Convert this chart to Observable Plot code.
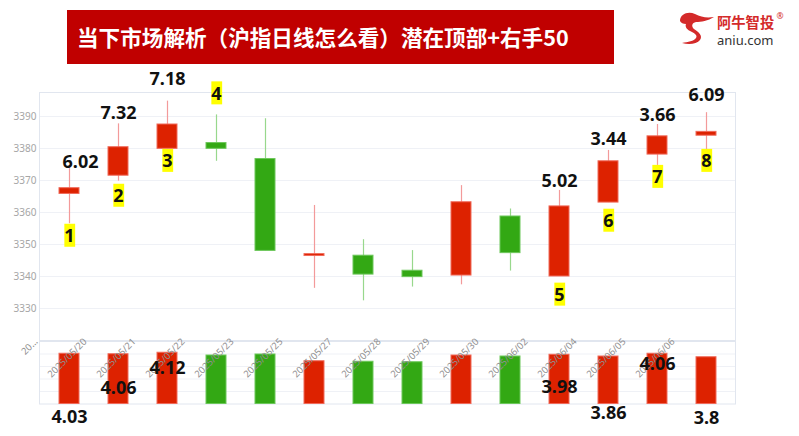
<!DOCTYPE html>
<html><head><meta charset="utf-8">
<script src="https://cdn.jsdelivr.net/npm/d3@7"></script>
<script src="https://cdn.jsdelivr.net/npm/@observablehq/plot@0.6"></script>
<style>
body{margin:0;background:#fff;}
#wrap{position:relative;width:799px;height:436px;overflow:hidden;background:#fff;font-family:"Noto Sans",sans-serif;}
#title{position:absolute;left:67px;top:10px;width:547px;height:54px;background:#c00000;color:#fff;font-weight:bold;font-size:21.6px;font-family:"Noto Sans CJK SC",sans-serif;line-height:54px;padding-left:10px;box-sizing:border-box;white-space:nowrap;}
.layer{position:absolute;left:0;top:0;}
#logo{position:absolute;left:676px;top:8px;}
</style></head><body>
<div id="wrap">
  <div id="title">当下市场解析（沪指日线怎么看）潜在顶部+右手50</div>
  <svg id="logo" width="120" height="42" viewBox="676 8 120 42">
    <path d="M680,21 C680,14 688,11 695,14 C701,17 706,18 714,17 C708,21 701,22 696,22 C692,23 691,26 694,29 C699,32 703,36 700,40 C697,44 689,45 682,43 C688,42 694,41 696,38 C698,35 694,33 690,31 C686,29 685,26 686,24 C683,24 681,23 680,21 Z" fill="#d42a2a"/>
    <text x="717" y="28" font-family="Noto Sans CJK SC" font-size="14.3" fill="#d42a2a" font-weight="bold">阿牛智投</text>
    <text x="776.5" y="19" font-family="Noto Sans" font-size="8.5" fill="#d42a2a">®</text>
    <text x="717" y="45" font-family="Noto Sans" font-size="13" fill="#333">aniu.com</text>
  </svg>
</div>
<script>
// ---- data ----
const dateLabels = ["20…","2025/05/20","2025/05/21","2025/05/22","2025/05/23","2025/05/25","2025/05/27","2025/05/28","2025/05/29","2025/05/30","2025/06/02","2025/06/04","2025/06/05","2025/06/06"];
const openVals  = [3365.8,3371.5,3379.9,3381.7,3376.7,3346.4,3346.5,3341.8,3340.3,3358.75,3340.0,3363.1,3378.1,3384.0];
const closeVals = [3367.6,3380.4,3387.5,3379.9,3348.0,3347.0,3340.6,3339.8,3363.2,3347.3,3361.9,3376.0,3383.8,3385.2];
const highVals  = [3373.7,3387.7,3394.8,3390.5,3389.3,3362.2,3351.5,3348.1,3368.4,3361.1,3366.9,3379.4,3387.5,3391.2];
const lowVals   = [3356.5,3369.8,3379.9,3376.0,3348.0,3336.3,3332.4,3336.7,3337.4,3341.7,3340.0,3363.1,3374.7,3379.6];
const volumeVals = [4.02,3.98,4.10,3.88,3.96,3.42,3.38,3.34,3.88,3.80,3.94,3.80,4.02,3.74];
const yTicks = [3330,3340,3350,3360,3370,3380,3390];
const yGrid = [3320,3330,3340,3350,3360,3370,3380,3390];
const volGrid = [1,2,3,4];

// annotations (category, level in axis units, text)
const topNoteIdx  = [0,1,2,10,11,12,13];
const topNoteY    = [3375.6,3391.1,3401.6,3369.7,3383.0,3390.5,3396.7];
const topNoteText = ["6.02","7.32","7.18","5.02","3.44","3.66","6.09"];
const tagIdx  = [0,1,2,3,10,11,12,13];
const tagY    = [3352.5,3365.0,3375.9,3397.0,3334.1,3357.2,3370.9,3375.9];
const tagText = ["1","2","3","4","5","6","7","8"];
const volNoteIdx  = [0,1,2,10,11,12,13];
const volNoteY    = [-1.04,1.24,2.84,1.32,-0.72,3.16,-1.12];
const volNoteText = ["4.03","4.06","4.12","3.98","3.86","4.06","3.8"];

// ---- build ----
const rows = dateLabels.map((d,i)=>({d,o:openVals[i],c:closeVals[i],h:highVals[i],l:lowVals[i],v:volumeVals[i],up:closeVals[i]>=openVals[i]}));
const topNotes = topNoteIdx.map((k,i)=>({d:dateLabels[k],y:topNoteY[i],t:topNoteText[i]}));
const tags = tagIdx.map((k,i)=>({d:dateLabels[k],y:tagY[i],t:tagText[i]}));
const volNotes = volNoteIdx.map((k,i)=>({d:dateLabels[k],y:volNoteY[i],t:volNoteText[i]}));

const RED="#dd2200", GREEN="#33a814", RED_W="#f39a9a", GREEN_W="#98d88c", RED_S="#f06a5a", GREEN_S="#6cc75a";
const xOpts = {domain: dateLabels, paddingInner:0.6, paddingOuter:0.3, axis:null};
const numFont = "Noto Sans";

const topPlot = Plot.plot({
  width:799, height:341, marginTop:92, marginBottom:1, marginLeft:39, marginRight:64,
  x: xOpts,
  y: {domain:[3320,3397.5], axis:null},
  color: {type:"identity"},
  style: {background:"none", fontFamily:numFont, overflow:"visible"},
  marks: [
    Plot.ruleY(yGrid, {stroke:"#eff1f6"}),
    Plot.frame({stroke:"#e1e6ef"}),
    Plot.axisY(yTicks, {tickSize:0, tickPadding:3, tickFormat:"d", fill:"#a6a6a6", fontSize:10, label:null}),
    Plot.ruleX(rows, {x:"d", y1:"l", y2:"h", stroke:d=>d.up?RED_W:GREEN_W, strokeWidth:1.2}),
    Plot.barY(rows, {x:"d", y1:"o", y2:"c", fill:d=>d.up?RED:GREEN, stroke:d=>d.up?RED_S:GREEN_S, strokeWidth:1}),
    Plot.text(topNotes.slice(0,1), {x:"d", y:"y", text:"t", dx:11, fontSize:18, fontWeight:"bold", fill:"#111"}),
    Plot.text(topNotes.slice(1), {x:"d", y:"y", text:"t", fontSize:18, fontWeight:"bold", fill:"#111"}),
    Plot.text(tags, {x:"d", y:"y", text:"t", fontSize:18, fontWeight:"bold", fill:"#111", className:"tag"})
  ]
});
topPlot.classList.add("layer");

const volPlot = Plot.plot({
  width:799, height:436, marginTop:341, marginBottom:32.5, marginLeft:39, marginRight:64,
  x: xOpts,
  y: {domain:[0,5], axis:null},
  color: {type:"identity"},
  style: {background:"none", fontFamily:numFont, overflow:"visible"},
  marks: [
    Plot.ruleY(volGrid, {stroke:"#eff1f6"}),
    Plot.frame({stroke:"#e1e6ef"}),
    Plot.barY(rows, {x:"d", y:"v", fill:d=>d.up?RED:GREEN, stroke:d=>d.up?RED_S:GREEN_S, strokeWidth:1}),
    Plot.text(rows, {x:"d", frameAnchor:"top", text:"d", rotate:-45, textAnchor:"end", dx:-36, dy:-4, fill:"#8f8f8f", fontSize:9.5}),
    Plot.text(volNotes, {x:"d", y:"y", text:"t", fontSize:18, fontWeight:"bold", fill:"#111"})
  ]
});
volPlot.classList.add("layer");

const wrap = document.getElementById("wrap");
const logo = document.getElementById("logo");
wrap.insertBefore(topPlot, logo);
wrap.insertBefore(volPlot, logo);

// yellow boxes behind tag numbers
topPlot.querySelectorAll("g.tag text").forEach(t=>{
  const b = t.getBBox();
  const r = document.createElementNS("http://www.w3.org/2000/svg","rect");
  const tr = t.getAttribute("transform");
  if (tr) r.setAttribute("transform", tr);
  r.setAttribute("x", b.x); r.setAttribute("y", b.y+0.5);
  r.setAttribute("width", b.width+0.5); r.setAttribute("height", b.height-1);
  r.setAttribute("fill", "#ffff00");
  t.parentNode.insertBefore(r, t);
});
</script>
</body></html>
